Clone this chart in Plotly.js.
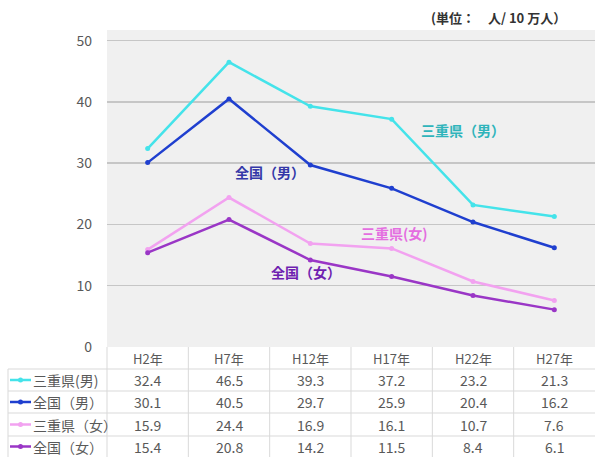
<!DOCTYPE html>
<html><head><meta charset="utf-8">
<script src="https://cdn.plot.ly/plotly-3.0.1.min.js"></script>
<style>html,body{margin:0;padding:0;background:#fff}#c{width:595px;height:457px}</style>
</head><body><div id="c"></div>
<script>
var categories = ['H2年','H7年','H12年','H17年','H22年','H27年'];
var seriesNames = ['三重県(男)','全国（男）','三重県（女）','全国（女）'];
var plotLabels = ['三重県（男）','全国（男）','三重県(女)','全国（女）'];
var mieMale = [32.4, 46.5, 39.3, 37.2, 23.2, 21.3];
var zenMale = [30.1, 40.5, 29.7, 25.9, 20.4, 16.2];
var mieFemale = [15.9, 24.4, 16.9, 16.1, 10.7, 7.6];
var zenFemale = [15.4, 20.8, 14.2, 11.5, 8.4, 6.1];
var yTicks = [0, 10, 20, 30, 40, 50];
var unitText = '(単位：　人/ 10 万人）';

var seriesValues = [mieMale, zenMale, mieFemale, zenFemale];
var lineColors = ['#44e3ea', '#1f3fcf', '#f2a2f0', '#9a36c6'];
var labelColors = ['#2fb4bb', '#3438a8', '#e46ee0', '#6f1fb0'];
var labelPos = [[3.88, 35.4], [1.5, 28.6], [3.04, 18.6], [1.95, 12.2]];

var W = 595, H = 457, L = 107, R = 0, T = 30, B = 110;
var pw = W - L - R, ph = H - T - B;
function px2x(p){ return (p - L) / pw; }
function py2y(p){ return (H - B - p) / ph; }

var font = '"Noto Sans CJK JP", "Noto Sans", sans-serif';
var xs = categories.map(function(_, i){ return i; });

var traces = seriesValues.map(function(v, k){
  return {x: xs, y: v, type: 'scatter', mode: 'lines+markers', name: seriesNames[k],
    line: {color: lineColors[k], width: 2.5}, marker: {color: lineColors[k], size: 5},
    hoverinfo: 'skip'};
});

var annotations = [];
var shapes = [];
var rowCenters = [380, 402, 424.5, 446.5];
var headerCenter = 358;
categories.forEach(function(c, i){
  annotations.push({x: i, xref: 'x', y: py2y(headerCenter), yref: 'paper', text: c, showarrow: false,
    font: {family: font, size: 13, color: '#595959'}, xanchor: 'center', yanchor: 'middle'});
});
seriesValues.forEach(function(v, k){
  var yc = py2y(rowCenters[k]);
  v.forEach(function(val, i){
    annotations.push({x: i, xref: 'x', y: yc, yref: 'paper', text: val.toFixed(1), showarrow: false,
      font: {family: font, size: 14, color: '#595959'}, xanchor: 'center', yanchor: 'middle'});
  });
  annotations.push({x: px2x(31), xref: 'paper', y: yc, yref: 'paper', text: seriesNames[k], showarrow: false,
    font: {family: font, size: 14, color: '#595959'}, xanchor: 'left', yanchor: 'middle'});
  shapes.push({type: 'line', xref: 'paper', yref: 'paper', x0: px2x(10), x1: px2x(31), y0: yc, y1: yc,
    line: {color: lineColors[k], width: 2.5}, layer: 'above'});
  shapes.push({type: 'circle', xref: 'paper', yref: 'paper', x0: px2x(18), x1: px2x(23),
    y0: py2y(rowCenters[k] + 2.5), y1: py2y(rowCenters[k] - 2.5), fillcolor: lineColors[k],
    line: {width: 0}, layer: 'above'});
  annotations.push({x: labelPos[k][0], y: labelPos[k][1], xref: 'x', yref: 'y', text: '<b>' + plotLabels[k] + '</b>',
    showarrow: false, font: {family: font, size: 14, color: labelColors[k]}, xanchor: 'center', yanchor: 'middle'});
});
annotations.push({x: px2x(568), xref: 'paper', y: py2y(17), yref: 'paper', text: '<b>' + unitText + '</b>',
  showarrow: false, font: {family: font, size: 13, color: '#333'}, xanchor: 'right', yanchor: 'middle'});

var gridC = '#d9d9d9';
[369, 391, 413, 436].forEach(function(p){
  shapes.push({type: 'line', xref: 'paper', yref: 'paper', x0: px2x(8), x1: 1, y0: py2y(p), y1: py2y(p), line: {color: gridC, width: 1}});
});
shapes.push({type: 'line', xref: 'paper', yref: 'paper', x0: px2x(8), x1: px2x(8), y0: py2y(369), y1: py2y(457), line: {color: gridC, width: 1}});
shapes.push({type: 'line', xref: 'paper', yref: 'paper', x0: 0, x1: 0, y0: 0, y1: py2y(457), line: {color: gridC, width: 1}});
[0.5, 1.5, 2.5, 3.5, 4.5].forEach(function(xv){
  shapes.push({type: 'line', xref: 'x', yref: 'paper', x0: xv, x1: xv, y0: 0, y1: py2y(457), line: {color: gridC, width: 1}});
});

var layout = {
  width: W, height: H, margin: {l: L, r: R, t: T, b: B},
  paper_bgcolor: '#ffffff', plot_bgcolor: '#f0f0f0',
  showlegend: false,
  xaxis: {range: [-0.5, 5.5], showticklabels: false, showgrid: false, zeroline: false, ticks: '', fixedrange: true},
  yaxis: {range: [0, 51.75], tickvals: yTicks, ticktext: yTicks.map(String), showgrid: true,
    gridcolor: '#c6c6c6', gridwidth: 1.5, zeroline: false, ticks: '', ticklabelstandoff: 14,
    tickfont: {family: font, size: 14, color: '#595959'}},
  annotations: annotations, shapes: shapes
};
Plotly.newPlot('c', traces, layout, {displayModeBar: false, staticPlot: true});
</script></body></html>
